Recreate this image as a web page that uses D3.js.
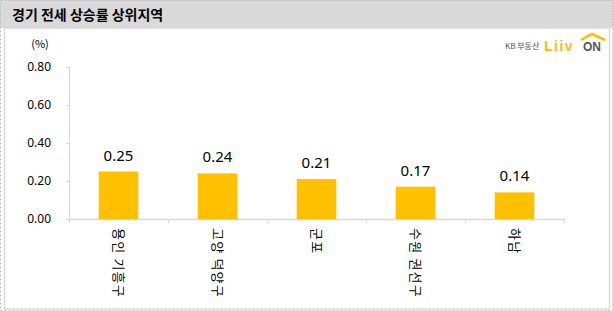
<!DOCTYPE html>
<html>
<head>
<meta charset="utf-8">
<script src="https://cdn.jsdelivr.net/npm/d3@7"></script>
<style>
  body { margin: 0; background: #fff; }
  text { font-family: "Malgun Gothic", "Noto Sans CJK KR", sans-serif; }
</style>
</head>
<body>
<svg id="chart"></svg>
<script>
const categories = ['용인 기흥구', '고양 덕양구', '군포', '수원 권선구', '하남'];
const values = [0.25, 0.24, 0.21, 0.17, 0.14];
const yTicks = [0, 0.2, 0.4, 0.6, 0.8];
const title = '경기 전세 상승률 상위지역';

const W = 613, H = 311;
const margin = { top: 67, left: 69, right: 49, bottom: 92 };
const width = W - margin.left - margin.right;
const height = H - margin.top - margin.bottom;

const svg = d3.select('#chart')
    .attr('width', W)
    .attr('height', H);

// outer dashed frame + header
svg.append('rect')
    .attr('x', 0).attr('y', 0).attr('width', W).attr('height', 28)
    .attr('fill', '#d9d9d9');
svg.append('rect')
    .attr('x', 0.5).attr('y', 0.5).attr('width', W - 1).attr('height', H - 1)
    .attr('fill', 'none').attr('stroke', '#bfbfbf').attr('stroke-dasharray', '2,2');
svg.append('text')
    .attr('x', 12).attr('y', 20)
    .style('font-size', '14px').style('font-weight', 'bold')
    .text(title);

// white panel
svg.append('rect')
    .attr('x', 4.5).attr('y', 28).attr('width', 605).attr('height', 281)
    .attr('fill', '#fff').attr('stroke', '#d9d9d9').attr('stroke-width', 1.5);

// logo
const logo = svg.append('g').attr('transform', 'translate(505,50)');
logo.append('text').attr('x', 0).attr('y', -1)
    .style('font-size', '8px').attr('fill', '#555').text('KB 부동산');
logo.append('text').attr('x', 39).attr('y', 1)
    .style('font-size', '14px').style('font-weight', '900').attr('fill', '#FFBC00')
    .style('letter-spacing', '1.5px')
    .style('font-family', 'Arial, sans-serif').text('Liiv');
logo.append('text').attr('x', 78).attr('y', 1)
    .style('font-size', '12px').style('font-weight', 'bold').attr('fill', '#555')
    .style('font-family', 'Arial, sans-serif').text('ON');
logo.append('path').attr('d', 'M76,-10 L87,-16 L100,-10')
    .attr('fill', 'none').attr('stroke', '#FFBC00').attr('stroke-width', 2.5);

const chart = svg.append('g')
    .attr('transform', `translate(${margin.left},${margin.top})`);

const xScale = d3.scaleBand()
    .domain(categories)
    .range([0, width])
    .paddingInner(0.6)
    .paddingOuter(0.3);

const yScale = d3.scaleLinear()
    .domain([0, 0.8])
    .range([height, 0]);

// y axis
const yAxis = d3.axisLeft(yScale)
    .tickValues(yTicks)
    .tickSize(3)
    .tickPadding(15)
    .tickFormat(d3.format('.2f'));
const yAxisG = chart.append('g').call(yAxis);
yAxisG.select('.domain').attr('stroke', '#d9d9d9');
yAxisG.selectAll('.tick line').attr('stroke', '#d9d9d9');
yAxisG.selectAll('.tick text')
    .style('font-size', '12px').attr('fill', '#000')
    .style('font-family', '"Malgun Gothic", "Noto Sans", sans-serif');

chart.append('text')
    .attr('x', -29).attr('y', -19)
    .style('font-size', '11px').style('text-anchor', 'middle')
    .text('(%)');

// x axis: ticks at band boundaries
const xBound = d3.scaleLinear().domain([0, categories.length]).range([0, width]);
const xAxisG = chart.append('g').attr('transform', `translate(0,${height})`);
xAxisG.append('line')
    .attr('x1', 0).attr('x2', width).attr('y1', 0.5).attr('y2', 0.5)
    .attr('stroke', '#d9d9d9').attr('stroke-width', 1.5);
xAxisG.selectAll('.xtick')
    .data(d3.range(categories.length + 1))
    .join('line')
    .attr('class', 'xtick')
    .attr('x1', d => xBound(d) + 0.5).attr('x2', d => xBound(d) + 0.5)
    .attr('y1', 0).attr('y2', 4)
    .attr('stroke', '#d9d9d9');

// bars
chart.selectAll('.bar')
    .data(values)
    .join('rect')
    .attr('class', 'bar')
    .attr('x', (d, i) => xScale(categories[i]))
    .attr('width', xScale.bandwidth())
    .attr('y', d => yScale(d))
    .attr('height', d => height - yScale(d))
    .attr('fill', '#FFC000');

// value labels
chart.selectAll('.val')
    .data(values)
    .join('text')
    .attr('class', 'val')
    .attr('x', (d, i) => xScale(categories[i]) + xScale.bandwidth() / 2)
    .attr('y', d => yScale(d) - 11)
    .style('text-anchor', 'middle')
    .style('font-size', '15px')
    .style('font-family', '"Malgun Gothic", "Noto Sans", sans-serif')
    .text(d => d3.format('.2f')(d));

// category labels, rotated
chart.selectAll('.cat')
    .data(categories)
    .join('text')
    .attr('class', 'cat')
    .attr('transform', d => `translate(${xScale(d) + xScale.bandwidth() / 2 - 5},${height + 9}) rotate(90)`)
    .style('font-size', '13px')
    .style('letter-spacing', '1.2px')
    .text(d => d);
</script>
</body>
</html>
